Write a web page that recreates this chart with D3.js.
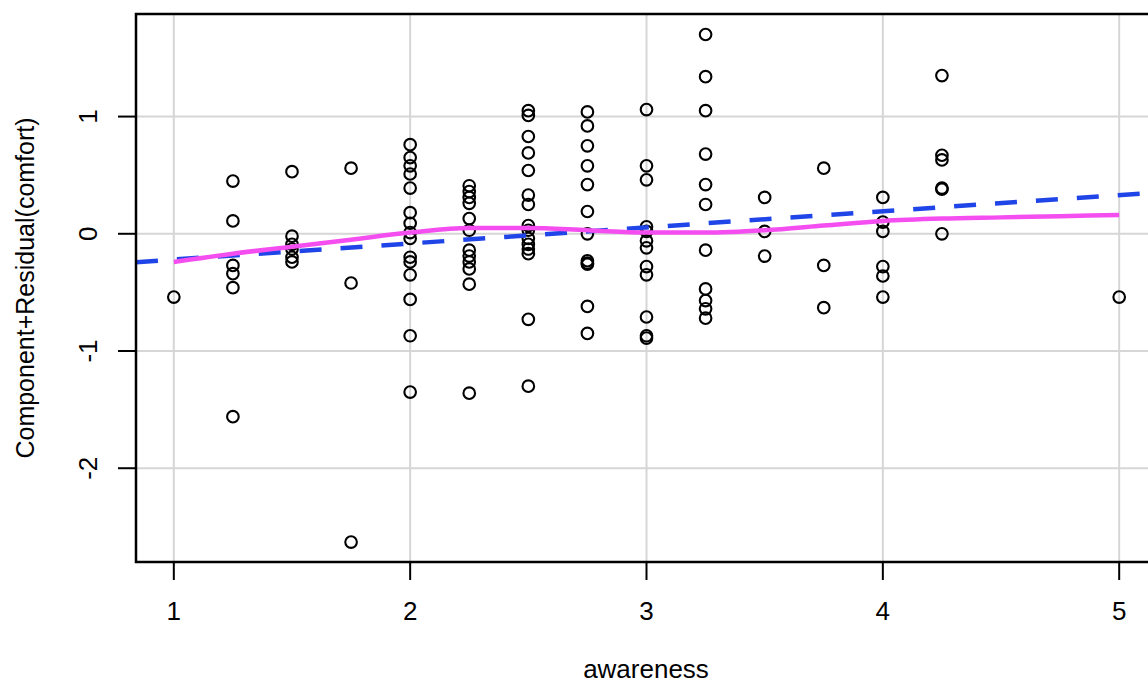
<!DOCTYPE html>
<html>
<head>
<meta charset="utf-8">
<script src="https://cdn.jsdelivr.net/npm/d3@7"></script>
<style>
  body { margin: 0; background: #fff; }
  text { font-family: "Liberation Sans", Arial, sans-serif; fill: #000; }
</style>
</head>
<body>
<div id="chart"></div>
<script>
// awareness levels and the residuals stacked on each of them
var awarenessLevels = [1, 1.25, 1.5, 1.75, 2, 2.25, 2.5, 2.75, 3, 3.25, 3.5, 3.75, 4, 4.25, 5];
var residuals = [
  [-0.54],
  [0.45, 0.11, -0.27, -0.34, -0.46, -1.56],
  [0.53, -0.02, -0.09, -0.13, -0.2, -0.24],
  [0.56, -0.42, -2.63],
  [0.76, 0.65, 0.58, 0.51, 0.39, 0.18, 0.09, 0.01, -0.04, -0.2, -0.24, -0.35, -0.56, -0.87, -1.35],
  [0.41, 0.36, 0.31, 0.26, 0.13, 0.03, -0.14, -0.19, -0.24, -0.3, -0.43, -1.36],
  [1.05, 1.01, 0.83, 0.69, 0.54, 0.33, 0.25, 0.07, 0.03, -0.04, -0.09, -0.13, -0.17, -0.73, -1.3],
  [1.04, 0.92, 0.75, 0.58, 0.42, 0.19, 0.0, -0.23, -0.25, -0.26, -0.62, -0.85],
  [1.06, 0.58, 0.46, 0.06, 0.02, -0.06, -0.12, -0.28, -0.35, -0.71, -0.87, -0.89],
  [1.7, 1.34, 1.05, 0.68, 0.42, 0.25, -0.14, -0.47, -0.57, -0.64, -0.72],
  [0.31, 0.02, -0.19],
  [0.56, -0.27, -0.63],
  [0.31, 0.1, 0.02, -0.28, -0.36, -0.54],
  [1.35, 0.67, 0.63, 0.39, 0.38, 0.0],
  [-0.54]
];

// linear fit (dashed) : intercept, slope
var lmCoef = [-0.3575, 0.1375];

// smoother (solid)
var smoothX = [1, 1.25, 1.5, 1.75, 2, 2.25, 2.5, 2.75, 3, 3.25, 3.5, 3.75, 4, 4.25, 4.5, 4.75, 5];
var smoothY = [-0.24, -0.17, -0.11, -0.05, 0.01, 0.05, 0.05, 0.03, 0.01, 0.01, 0.03, 0.07, 0.11, 0.13, 0.14, 0.15, 0.16];

var xTicks = [1, 2, 3, 4, 5];
var yTicks = [-2, -1, 0, 1];

var width = 1148, height = 688;
var plot = {left: 136, top: 14, right: 1157, bottom: 562};

var points = [];
awarenessLevels.forEach(function(a, i) {
  residuals[i].forEach(function(r) { points.push({x: a, y: r}); });
});

var x = d3.scaleLinear().domain([0.84, 5.16]).range([plot.left, plot.right]);
var y = d3.scaleLinear().domain([-2.80, 1.875]).range([plot.bottom, plot.top]);

var svg = d3.select("#chart").append("svg")
  .attr("width", width)
  .attr("height", height);

svg.append("clipPath").attr("id", "clip")
  .append("rect")
  .attr("x", plot.left).attr("y", plot.top)
  .attr("width", plot.right - plot.left)
  .attr("height", plot.bottom - plot.top);

//grid
var grid = svg.append("g").attr("clip-path", "url(#clip)");
grid.selectAll(".gx").data(xTicks).enter().append("line")
  .attr("x1", d => x(d)).attr("x2", d => x(d))
  .attr("y1", plot.top).attr("y2", plot.bottom)
  .attr("stroke", "#d6d6d6").attr("stroke-width", 2);
grid.selectAll(".gy").data(yTicks).enter().append("line")
  .attr("x1", plot.left).attr("x2", plot.right)
  .attr("y1", d => y(d)).attr("y2", d => y(d))
  .attr("stroke", "#d6d6d6").attr("stroke-width", 2);

//points
svg.append("g").selectAll("circle").data(points).enter().append("circle")
  .attr("cx", d => x(d.x))
  .attr("cy", d => y(d.y))
  .attr("r", 5.8)
  .attr("fill", "none")
  .attr("stroke", "#000")
  .attr("stroke-width", 2.1);

//lm line
var lines = svg.append("g").attr("clip-path", "url(#clip)");
var xd = x.domain();
lines.append("line")
  .attr("x1", x(xd[0])).attr("y1", y(lmCoef[0] + lmCoef[1] * xd[0]))
  .attr("x2", x(xd[1])).attr("y2", y(lmCoef[0] + lmCoef[1] * xd[1]))
  .attr("stroke", "#1f45e8")
  .attr("stroke-width", 4.5)
  .attr("stroke-dasharray", "22,19");

//smoother
var smooth = smoothX.map((v, i) => [v, smoothY[i]]);
lines.append("path")
  .datum(smooth)
  .attr("d", d3.line().x(d => x(d[0])).y(d => y(d[1])).curve(d3.curveMonotoneX))
  .attr("fill", "none")
  .attr("stroke", "#f44ef0")
  .attr("stroke-width", 4.5);

//box
svg.append("rect")
  .attr("x", plot.left).attr("y", plot.top)
  .attr("width", plot.right - plot.left)
  .attr("height", plot.bottom - plot.top)
  .attr("fill", "none")
  .attr("stroke", "#000")
  .attr("stroke-width", 2.5);

//x axis
svg.selectAll(".xt").data(xTicks).enter().append("line")
  .attr("x1", d => x(d)).attr("x2", d => x(d))
  .attr("y1", plot.bottom).attr("y2", plot.bottom + 18)
  .attr("stroke", "#000").attr("stroke-width", 2);
svg.selectAll(".xl").data(xTicks).enter().append("text")
  .attr("x", d => x(d))
  .attr("y", 620)
  .attr("text-anchor", "middle")
  .style("font-size", "26px")
  .text(d => d);

//y axis
svg.selectAll(".yt").data(yTicks).enter().append("line")
  .attr("x1", plot.left - 18).attr("x2", plot.left)
  .attr("y1", d => y(d)).attr("y2", d => y(d))
  .attr("stroke", "#000").attr("stroke-width", 2);
svg.selectAll(".yl").data(yTicks).enter().append("text")
  .attr("transform", d => "translate(97," + y(d) + ") rotate(-90)")
  .attr("text-anchor", "middle")
  .style("font-size", "26px")
  .text(d => d);

//titles
svg.append("text")
  .attr("x", (plot.left + 1148) / 2 + 4)
  .attr("y", 678)
  .attr("text-anchor", "middle")
  .style("font-size", "26px")
  .text("awareness");

svg.append("text")
  .attr("transform", "translate(34," + (plot.top + plot.bottom) / 2 + ") rotate(-90)")
  .attr("text-anchor", "middle")
  .style("font-size", "25px")
  .text("Component+Residual(comfort)");
</script>
</body>
</html>
